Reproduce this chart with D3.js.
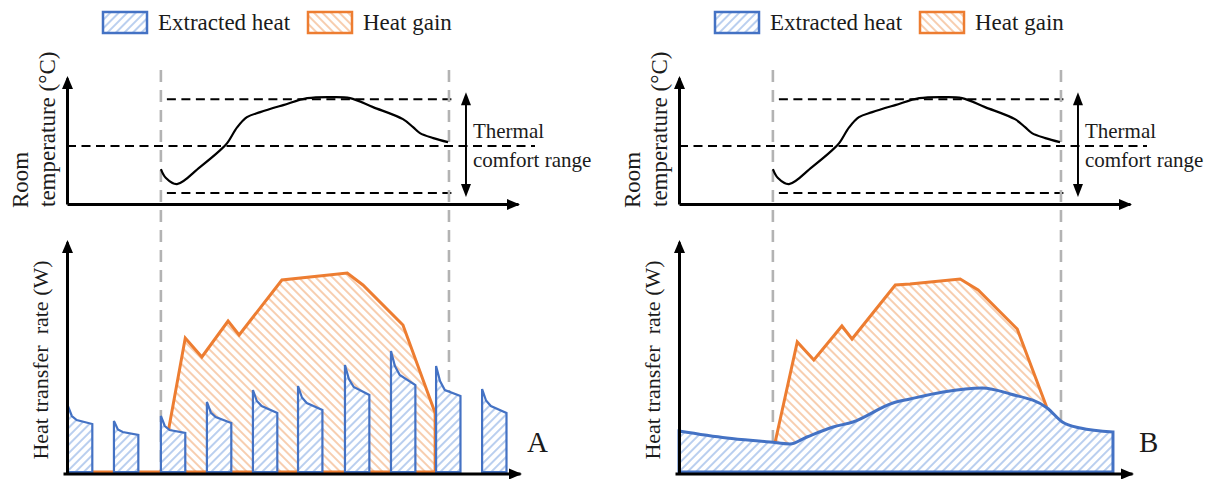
<!DOCTYPE html>
<html>
<head>
<meta charset="utf-8">
<script src="https://cdn.jsdelivr.net/npm/d3@7"></script>
<style>
  body { margin: 0; background: #fff; }
</style>
</head>
<body>
<div id="chart"></div>
<script>
// time runs in arbitrary units, one unit = one on/off cooling cycle of case A
const occupiedPeriod = [2.04, 8.3];
const comfortRange = [22, 28];   // degC
const setpoint = 25;

// room temperature during the occupied period (same in A and B)
const tempTime  = [2.04, 2.15, 2.39, 2.89, 3.33, 3.48, 3.70, 3.91, 4.20, 4.70, 5.22, 5.78, 6.15, 6.65, 7.30, 7.52, 7.67, 7.96, 8.28];
const tempValue = [23.53, 22.96, 22.57, 23.66, 24.74, 25.19, 26.21, 26.85, 27.17, 27.62, 28.06, 28.13, 28.06, 27.49, 26.72, 26.21, 25.83, 25.51, 25.25];

// case A : intermittent extracted heat pulses
const pulseStart = [0.02, 1.02, 2.04, 3.04, 4.04, 5.02, 6.04, 7.04, 8.02, 9.02];
const pulsePeak  = [33, 25.5, 28, 35, 41, 43, 53.5, 60.5, 53, 41.5];
const pulseKnee  = [26, 20, 21, 27.5, 33, 34.5, 42.5, 48.5, 41, 33];
const pulseEnd   = [24, 18.5, 19.5, 24.5, 29.5, 31, 38.5, 43.5, 38, 29.5];
const pulseLength = 0.53, kneeDelay = 0.19;

// case A : heat gain
const gainTimeA  = [0, 2.04, 2.57, 2.93, 3.50, 3.74, 4.67, 6.09, 6.43, 7.30, 8.00];
const gainValueA = [0, 0, 67, 57.5, 75.5, 68.5, 96, 99.5, 93.5, 73.5, 29.5];

// case B : heat gain
const gainTimeB  = [2.09, 2.57, 2.93, 3.54, 3.76, 4.70, 5.02, 6.11, 6.50, 7.35, 7.98];
const gainValueB = [15, 65, 56, 73, 66.5, 93.5, 94, 96.5, 91, 71.5, 33];

// case B : continuous extracted heat
const extractTimeB  = [0, 1.04, 1.98, 2.41, 2.78, 3.35, 3.78, 4.65, 5.02, 5.74, 6.59, 7.20, 8.00, 8.33, 8.72, 9.43];
const extractValueB = [20.5, 17, 15, 14, 17.5, 22.5, 25, 34.5, 36.5, 40, 42, 39, 32, 25, 22, 20];

const legendLabels = ["Extracted heat", "Heat gain"];
const panelLabels = ["A", "B"];

const blue = "#4472c4", orange = "#ed7d31";
const blueHatch = "#a9c3ec", orangeHatch = "#f6c29c";
const gray = "#b3b3b3";

const width = 1226, height = 479;

const svg = d3.select("#chart").append("svg")
  .attr("width", width)
  .attr("height", height)
  .attr("font-family", "Liberation Serif, Times New Roman, serif");

/** hatch patterns **/
const defs = svg.append("defs");
function hatch(id, color, angle) {
  const p = defs.append("pattern")
    .attr("id", id)
    .attr("patternUnits", "userSpaceOnUse")
    .attr("width", 6)
    .attr("height", 6)
    .attr("patternTransform", "rotate(" + angle + ")");
  p.append("rect").attr("width", 6).attr("height", 6).attr("fill", "#fff");
  p.append("line")
    .attr("x1", 3).attr("y1", 0).attr("x2", 3).attr("y2", 6)
    .attr("stroke", color)
    .attr("stroke-width", 1.6);
}
hatch("hatchBlue", blueHatch, 45);
hatch("hatchOrange", orangeHatch, -45);

// arrow head pointing up at (0,0), rotated as needed
function arrowHead(g, px, py, angle, w, len) {
  g.append("path")
    .attr("d", "M0,0L" + (w / 2) + "," + len + "L" + (-w / 2) + "," + len + "Z")
    .attr("transform", "translate(" + px + "," + py + ") rotate(" + angle + ")")
    .attr("fill", "#000");
}

function addText(g, cls) {
  return g.append("text")
    .attr("class", cls)
    .attr("font-family", "Liberation Serif, Times New Roman, serif")
    .attr("fill", "#1b1b1b");
}

function drawPanel(i, offset) {
  const g = svg.append("g").attr("transform", "translate(" + offset + ",0)");

  const x = d3.scaleLinear().domain([0, 9.8]).range([67, 518]);
  const yTemp = d3.scaleLinear().domain([21.3, 29.35]).range([204, 78]);
  const yHeat = d3.scaleLinear().domain([0, 115]).range([472, 242]);

  /** legend **/
  const leg = g.append("g");
  const legX = [103, 308];
  legendLabels.forEach((lab, k) => {
    leg.append("rect")
      .attr("x", legX[k]).attr("y", 12)
      .attr("width", 44).attr("height", 21)
      .attr("fill", k === 0 ? "url(#hatchBlue)" : "url(#hatchOrange)")
      .attr("stroke", k === 0 ? blue : orange)
      .attr("stroke-width", 2.5);
    addText(leg, "legendText")
      .attr("x", legX[k] + 55).attr("y", 30)
      .attr("font-size", 23)
      .text(lab);
  });

  /** top panel : room temperature **/
  const x0 = x(occupiedPeriod[0]), x1 = x(occupiedPeriod[1]);

  // comfort limits
  g.selectAll(".limit")
    .data(comfortRange)
    .enter().append("line")
    .attr("class", "limit")
    .attr("x1", x0 + 6).attr("x2", x1 + 4)
    .attr("y1", d => yTemp(d)).attr("y2", d => yTemp(d))
    .attr("stroke", "#000").attr("stroke-width", 2)
    .attr("stroke-dasharray", "9,5.5");

  g.append("line")
    .attr("x1", x(0)).attr("x2", x.range()[1] + 17)
    .attr("y1", yTemp(setpoint)).attr("y2", yTemp(setpoint))
    .attr("stroke", "#000").attr("stroke-width", 2)
    .attr("stroke-dasharray", "9,5.5");

  // thermal comfort range double arrow
  const ax = x1 + 17;
  g.append("line")
    .attr("x1", ax).attr("x2", ax)
    .attr("y1", yTemp(comfortRange[1]) - 2).attr("y2", yTemp(comfortRange[0]) - 1)
    .attr("stroke", "#000").attr("stroke-width", 2);
  arrowHead(g, ax, yTemp(comfortRange[1]) - 7, 0, 10, 13);
  arrowHead(g, ax, yTemp(comfortRange[0]) + 4, 180, 10, 13);

  const lbl = addText(g, "rangeLabel")
    .attr("x", ax + 7).attr("y", 138)
    .attr("font-size", 21);
  lbl.append("tspan").attr("x", ax + 7).text("Thermal");
  lbl.append("tspan").attr("x", ax + 7).attr("dy", 29).text("comfort range");

  /** gray occupied period markers **/
  const markers = g.append("g");
  const drawMarkers = () => {
    markers.selectAll("line")
      .data(occupiedPeriod)
      .enter().append("line")
      .attr("x1", d => x(d)).attr("x2", d => x(d))
      .attr("y1", 70).attr("y2", yHeat(0))
      .attr("stroke", gray).attr("stroke-width", 2.6)
      .attr("stroke-dasharray", "12,8");
  };

  // temperature curve
  const tempLine = d3.line()
    .x((d, k) => x(tempTime[k]))
    .y(d => yTemp(d))
    .curve(d3.curveCatmullRom.alpha(0.5));
  g.append("path")
    .attr("d", tempLine(tempValue))
    .attr("fill", "none")
    .attr("stroke", "#000")
    .attr("stroke-width", 2.2);

  /** bottom panel : heat transfer rate **/
  const gainT = i === 0 ? gainTimeA : gainTimeB;
  const gainV = i === 0 ? gainValueA : gainValueB;
  const gainArea = d3.area()
    .x((d, k) => x(gainT[k]))
    .y0(yHeat(0))
    .y1(d => yHeat(d));
  g.append("path")
    .attr("d", gainArea(gainV))
    .attr("fill", "url(#hatchOrange)")
    .attr("stroke", orange)
    .attr("stroke-width", 3);

  if (i === 0) {
    drawMarkers();
    const pulseLine = d3.line().x(d => x(d[0])).y(d => yHeat(d[1]));
    g.selectAll(".pulse")
      .data(pulseStart)
      .enter().append("path")
      .attr("class", "pulse")
      .attr("d", (s, k) => pulseLine([
        [s, 0], [s, pulsePeak[k]],
        [s + kneeDelay * 0.45, (pulsePeak[k] + pulseKnee[k]) / 2 - 1.5],
        [s + kneeDelay, pulseKnee[k]],
        [s + pulseLength, pulseEnd[k]], [s + pulseLength, 0]
      ]) + "Z")
      .attr("fill", "url(#hatchBlue)")
      .attr("stroke", blue)
      .attr("stroke-width", 2.2);
  } else {
    const extractArea = d3.area()
      .x((d, k) => x(extractTimeB[k]))
      .y0(yHeat(0))
      .y1(d => yHeat(d))
      .curve(d3.curveMonotoneX);
    g.append("path")
      .attr("d", extractArea(extractValueB))
      .attr("fill", "url(#hatchBlue)")
      .attr("stroke", blue)
      .attr("stroke-width", 3);
    drawMarkers();
  }

  /** axes **/
  const axisStyle = sel => sel.select(".domain").attr("stroke", "#000").attr("stroke-width", 3);

  g.append("g")
    .attr("transform", "translate(0," + yTemp.range()[0] + ")")
    .call(d3.axisBottom(x).ticks(0).tickSizeOuter(0))
    .call(axisStyle);
  g.append("g")
    .attr("transform", "translate(" + x.range()[0] + ",0)")
    .call(d3.axisLeft(yTemp).ticks(0).tickSizeOuter(0))
    .call(axisStyle);
  arrowHead(g, x.range()[1] + 2, yTemp.range()[0] + 0.5, 90, 11, 13);
  arrowHead(g, x.range()[0] + 0.5, yTemp.range()[1] - 2, 0, 11, 13);

  g.append("g")
    .attr("transform", "translate(0," + (yHeat(0) + 1.5) + ")")
    .call(d3.axisBottom(x.copy().range([63, 520])).ticks(0).tickSizeOuter(0))
    .call(axisStyle);
  g.append("g")
    .attr("transform", "translate(" + x.range()[0] + ",0)")
    .call(d3.axisLeft(yHeat.copy().range([473, 242])).ticks(0).tickSizeOuter(0))
    .call(axisStyle);
  arrowHead(g, 522, yHeat(0) + 2, 90, 11, 13);
  arrowHead(g, x.range()[0] + 0.5, 240, 0, 11, 13);

  /** axis titles **/
  addText(g, "axisTitle")
    .attr("transform", "translate(28,208) rotate(-90)")
    .attr("text-anchor", "start")
    .attr("font-size", 23)
    .text("Room");
  addText(g, "axisTitle")
    .attr("transform", "translate(55,207) rotate(-90)")
    .attr("text-anchor", "start")
    .attr("font-size", 23)
    .text("temperature (°C)");
  addText(g, "axisTitle")
    .attr("transform", "translate(48,360) rotate(-90)")
    .attr("text-anchor", "middle")
    .attr("font-size", 22)
    .style("white-space", "pre")
    .text("Heat transfer  rate (W)");

  addText(g, "panelLabel")
    .attr("x", 527).attr("y", 452)
    .attr("font-size", 29)
    .text(panelLabels[i]);
}

drawPanel(0, 0);
drawPanel(1, 612);
</script>
</body>
</html>
